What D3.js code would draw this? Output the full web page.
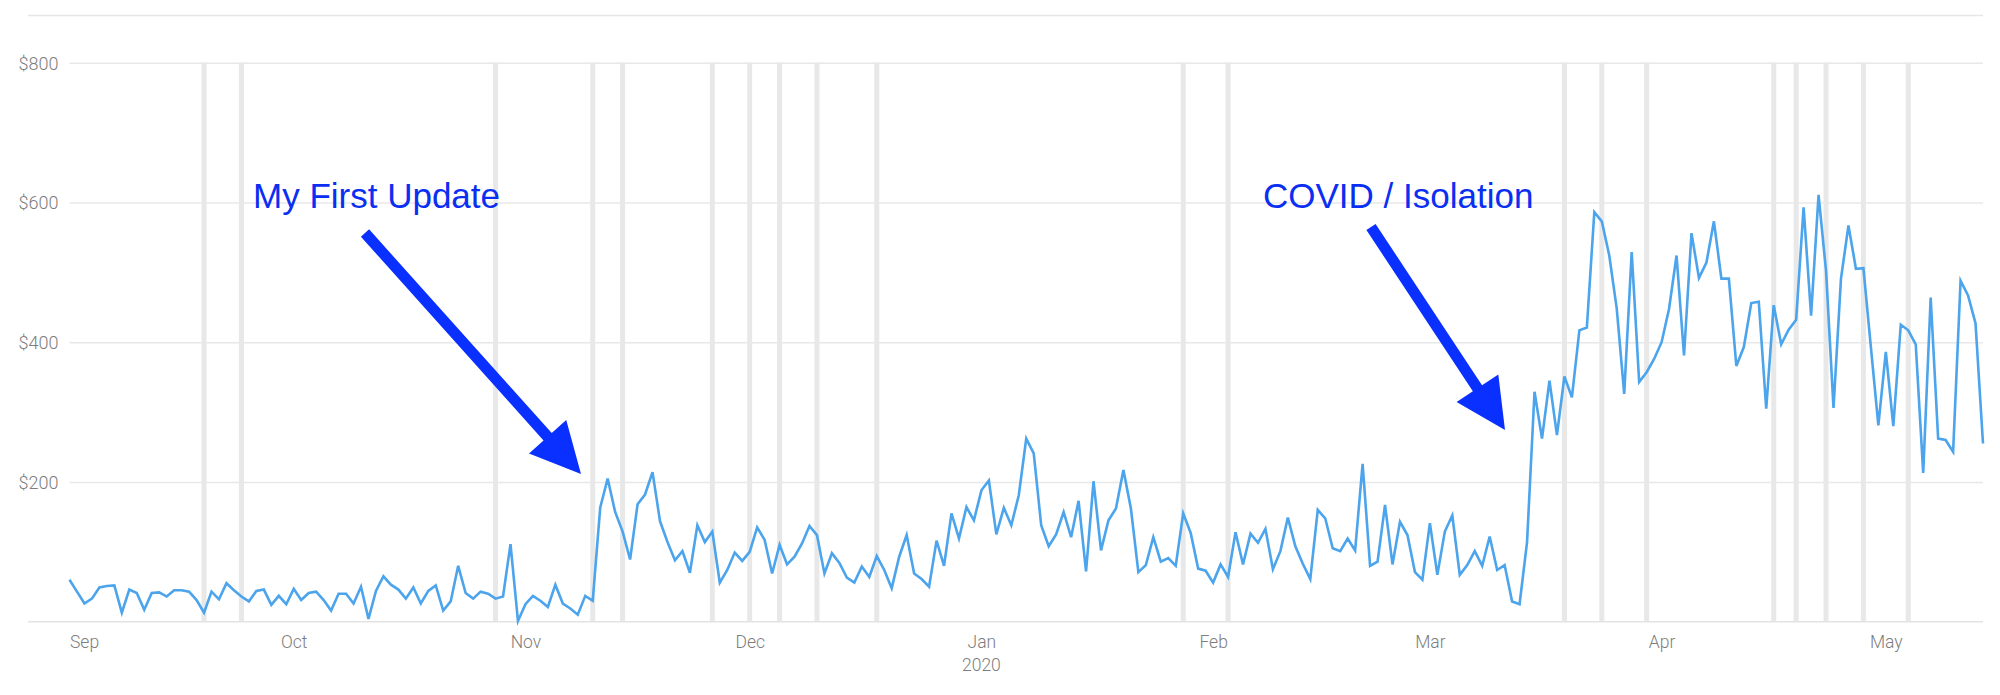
<!DOCTYPE html>
<html>
<head>
<meta charset="utf-8">
<script src="https://cdn.jsdelivr.net/npm/d3@7/dist/d3.min.js"></script>
<style>
  html, body { margin: 0; padding: 0; background: #fff; }
  svg { display: block; }
  .tick-label { font-family: "Roboto", "Liberation Sans", Arial, sans-serif; font-weight: 300; fill: #7d7d7d; }
  .note { font-family: "Liberation Sans", Arial, sans-serif; fill: #0a2ef2; }
</style>
</head>
<body>
<svg id="chart" width="2000" height="695"></svg>
<script>
// ---- data ----
const startDate = "2019-09-01"; // first daily point
const dailyRevenue = [
  60, 43, 26, 33, 49, 51, 52, 13, 46, 41, 17, 41, 42, 36, 45, 45, 43, 31, 13, 43,
  32, 55, 45, 36, 29, 44, 46, 24, 37, 25, 47, 31, 41, 43, 31, 16, 40, 40, 26, 50,
  4, 44, 65, 53, 46, 33, 49, 26, 44, 52, 16, 29, 80, 41, 33, 43, 40, 33, 36, 111,
  1, 25, 37, 30, 21, 53, 26, 19, 10, 37, 30, 163, 205, 157, 129, 89, 168, 182, 214, 144,
  114, 88, 101, 70, 138, 114, 129, 56, 74, 99, 87, 100, 135, 117, 69, 110, 82, 93, 112, 137,
  124, 69, 98, 84, 63, 56, 79, 64, 94, 74, 48, 93, 124, 69, 61, 50, 116, 80, 155, 119,
  164, 145, 188, 202, 125, 163, 138, 181, 262, 241, 138, 108, 125, 157, 121, 173, 72, 201, 102, 145,
  162, 217, 162, 71, 81, 121, 86, 91, 80, 155, 127, 76, 73, 56, 82, 64, 128, 82, 126, 113,
  133, 75, 101, 149, 108, 83, 61, 160, 148, 105, 101, 119, 102, 226, 80, 86, 167, 82, 143, 124,
  71, 60, 141, 67, 129, 152, 67, 81, 101, 80, 122, 74, 81, 29, 25, 114, 329, 262, 345, 267,
  351, 321, 417, 421, 586, 573, 524, 448, 326, 529, 343, 357, 376, 400, 448, 524, 381, 556, 492, 514,
  573, 491, 491, 366, 393, 456, 458, 305, 453, 397, 418, 432, 593, 438, 611, 502, 306, 491, 567, 505,
  506, 393, 281, 386, 280, 425, 417, 397, 213, 464, 262, 260, 243, 488, 467, 427, 255
];
const updateDays = [
  "2019-09-19", "2019-09-24", "2019-10-28", "2019-11-10", "2019-11-14", "2019-11-26",
  "2019-12-01", "2019-12-05", "2019-12-10", "2019-12-18", "2020-01-28", "2020-02-03",
  "2020-03-19", "2020-03-24", "2020-03-30", "2020-04-16", "2020-04-19", "2020-04-23",
  "2020-04-28", "2020-05-04"
];
const monthTicks = ["2019-09-01", "2019-10-01", "2019-11-01", "2019-12-01", "2020-01-01",
  "2020-02-01", "2020-03-01", "2020-04-01", "2020-05-01"];
const monthLabels = ["Sep", "Oct", "Nov", "Dec", "Jan", "Feb", "Mar", "Apr", "May"];
const yearLabel = { date: "2020-01-01", text: "2020" };
const yTicks = [200, 400, 600, 800];
const noteTexts = ["My First Update", "COVID / Isolation"];

// ---- layout ----
const M = { left: 69.5, right: 1983, top: 62.7, bottom: 621.7 };
const notePos = [
  { text: [253, 208], from: [365, 233], to: [581, 474] },
  { text: [1263, 208], from: [1371, 227], to: [1505, 430] }
];

const parse = d3.utcParse("%Y-%m-%d");
const t0 = parse(startDate);
const series = dailyRevenue.map((v, i) => ({ date: d3.utcDay.offset(t0, i), value: v }));

const svg = d3.select("#chart");

const x = d3.scaleUtc()
  .domain([series[0].date, series[series.length - 1].date])
  .range([M.left, M.right]);
const y = d3.scaleLinear().domain([0, 800]).range([M.bottom, M.top]);

// top border line
svg.append("line").attr("x1", 28).attr("x2", M.right).attr("y1", 15.5).attr("y2", 15.5)
  .attr("stroke", "#e6e6e6").attr("stroke-width", 1.4);

// horizontal gridlines + y labels
const yAxis = d3.axisLeft(y).tickValues(yTicks).tickSize(0).tickPadding(0)
  .tickFormat(d => "$" + d);
const gy = svg.append("g").attr("transform", `translate(${M.left},0)`).call(yAxis);
gy.select(".domain").remove();
gy.selectAll(".tick line").attr("x2", M.right - M.left).attr("stroke", "#e8e8e8").attr("stroke-width", 1.4);
gy.selectAll(".tick text").attr("class", "tick-label").attr("x", -11)
  .attr("font-size", 18).attr("dy", "0.36em").attr("text-anchor", "end");

// update bands
svg.append("g").selectAll("rect").data(updateDays).join("rect")
  .attr("x", d => x(parse(d)) - 2.5).attr("width", 5)
  .attr("y", M.top).attr("height", M.bottom - M.top)
  .attr("fill", "#e8e8e8");

// baseline
svg.append("line").attr("x1", 28).attr("x2", M.right).attr("y1", M.bottom).attr("y2", M.bottom)
  .attr("stroke", "#e3e3e3").attr("stroke-width", 1.4);

// x axis labels
const xAxis = d3.axisBottom(x).tickValues(monthTicks.map(parse)).tickSize(0).tickPadding(0)
  .tickFormat((d, i) => monthLabels[i]);
const gx = svg.append("g").attr("transform", `translate(0,${M.bottom})`).call(xAxis);
gx.select(".domain").remove();
gx.selectAll(".tick text").attr("class", "tick-label").attr("font-size", 17.5)
  .attr("y", 26.5).attr("dy", 0)
  .attr("text-anchor", (d, i) => i === 0 ? "start" : "middle")
  .attr("x", (d, i) => i === 0 ? M.left - x(d) : 0);
gx.append("text").attr("class", "tick-label").attr("font-size", 17.5)
  .attr("x", x(parse(yearLabel.date))).attr("y", 49).attr("text-anchor", "middle")
  .text(yearLabel.text);

// revenue line
const line = d3.line().x(d => x(d.date)).y(d => y(d.value));
svg.append("path").datum(series).attr("d", line)
  .attr("fill", "none").attr("stroke", "#4ba4ec").attr("stroke-width", 2.6)
  .attr("stroke-linejoin", "miter").attr("stroke-miterlimit", 4);

// annotations
function arrowPath(from, to, shaftW, headLen, headW) {
  const dx = to[0] - from[0], dy = to[1] - from[1];
  const L = Math.hypot(dx, dy), ux = dx / L, uy = dy / L, px = -uy, py = ux;
  const bx = to[0] - ux * headLen, by = to[1] - uy * headLen;
  const pts = [
    [from[0] + px * shaftW / 2, from[1] + py * shaftW / 2],
    [bx + px * shaftW / 2, by + py * shaftW / 2],
    [bx + px * headW / 2, by + py * headW / 2],
    to,
    [bx - px * headW / 2, by - py * headW / 2],
    [bx - px * shaftW / 2, by - py * shaftW / 2],
    [from[0] - px * shaftW / 2, from[1] - py * shaftW / 2]
  ];
  return "M" + pts.map(p => p.join(",")).join("L") + "Z";
}
noteTexts.forEach((t, i) => {
  const p = notePos[i];
  svg.append("text").attr("class", "note").attr("font-size", 35)
    .attr("x", p.text[0]).attr("y", p.text[1]).text(t);
  svg.append("path").attr("d", arrowPath(p.from, p.to, 11, 50, 50)).attr("fill", "#0a30ff");
});
</script>
</body>
</html>
